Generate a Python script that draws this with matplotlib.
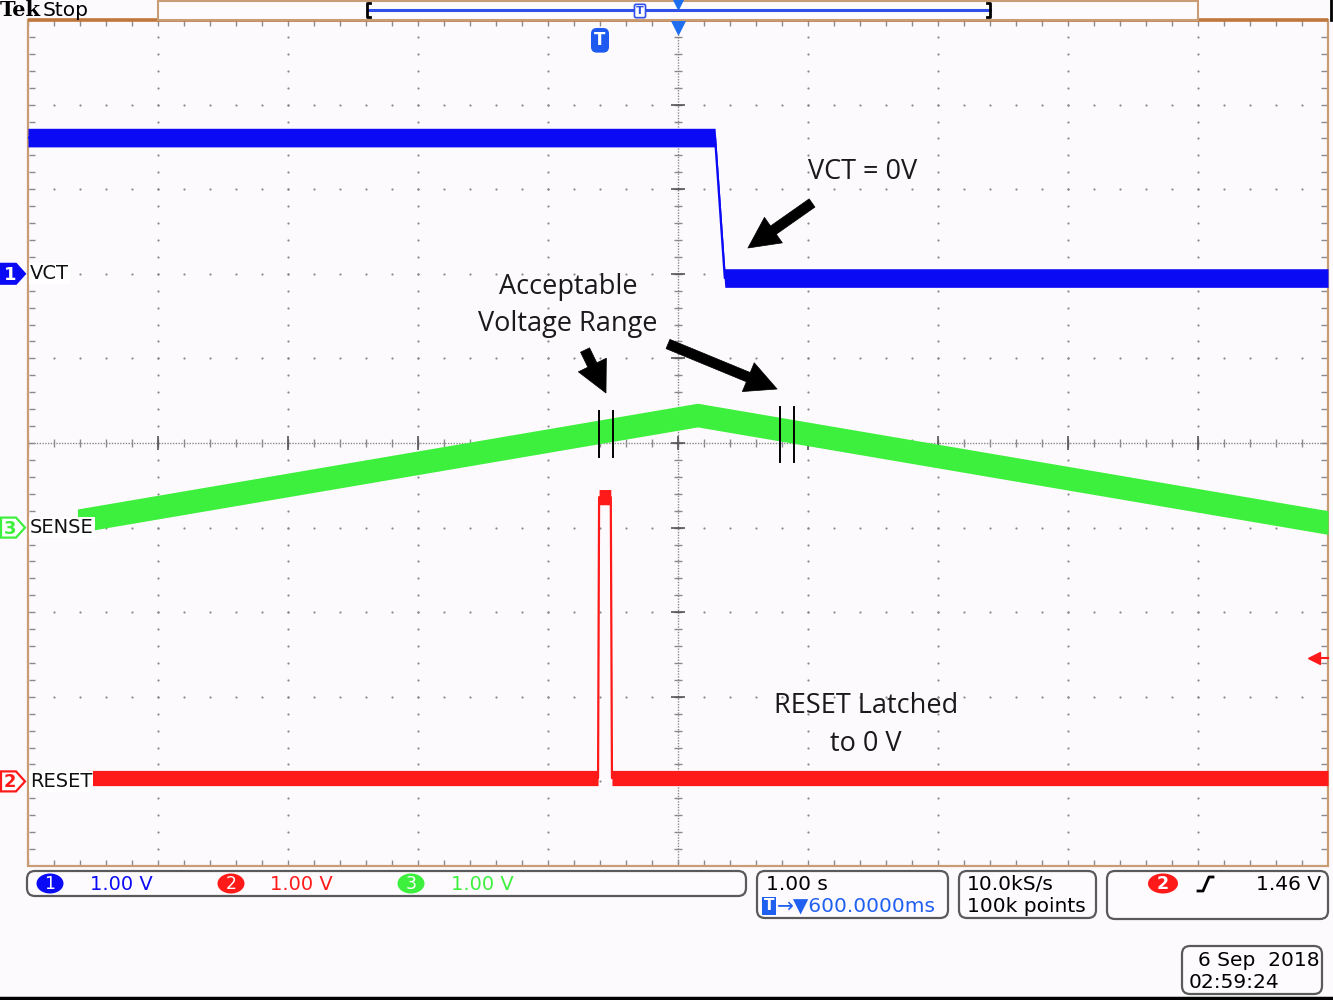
import numpy as np
import matplotlib
matplotlib.use("Agg")
import matplotlib.pyplot as plt
from matplotlib.patches import Polygon, Rectangle, FancyBboxPatch, Ellipse

# ---------------- data (time in s relative to screen centre, amplitude in V) ----------------
vct_t = [-5.0, 0.285, 0.36, 5.0]
vct_v = [1.61, 1.61, -0.05, -0.05]

sense_t = [-4.62, 0.15, 5.0]
sense_v = [0.08, 1.33, 0.06]

reset_t = [-4.55, -0.615, -0.607, -0.517, -0.508, 5.0]
reset_v = [0.04, 0.04, 3.36, 3.36, 0.04, 0.04]

channel_ids = ["1", "2", "3"]
channel_names = ["VCT", "RESET", "SENSE"]
channel_scale_text = ["1.00 V", "1.00 V", "1.00 V"]
channel_volts_per_div = [1.0, 1.0, 1.0]
channel_offsets = [2.0, -4.0, -1.0]          # screen divisions

trigger_position_s = -0.6
trigger_level_v = 1.46
range_marks_left = [-0.608, -0.500]
range_marks_right = [0.785, 0.892]

timebase_text = "1.00 s"
position_text = "\u2192\u25BC600.0000ms"
rate_text = "10.0kS/s"
points_text = "100k points"
trig_level_text = "1.46 V"
date_text = "6 Sep  2018"
time_text = "02:59:24"

# ---------------- styles ----------------
W, H = 1333, 1000
GX0, GX1, GY0, GY1 = 28, 1328, 20, 866
BLUE = "#0A0AF5"
RED = "#FF1A1A"
GREEN = "#3EF03E"
GRID = "#8A8A8A"
BG = "#FDFAFD"
colors = {"1": BLUE, "2": RED, "3": GREEN}

fig = plt.figure(figsize=(W / 100, H / 100), dpi=100)
fig.patch.set_facecolor(BG)

ax = fig.add_axes([GX0 / W, 1 - GY1 / H, (GX1 - GX0) / W, (GY1 - GY0) / H], zorder=1)
ax.set_xlim(-5, 5)
ax.set_ylim(-5, 5)
ax.axis("off")

ov = fig.add_axes([0, 0, 1, 1], zorder=3)
ov.set_xlim(0, W)
ov.set_ylim(H, 0)
ov.axis("off")
ov.patch.set_alpha(0)

# ---------------- graticule ----------------
minor = np.arange(-5, 5.001, 0.2)
for k in range(-4, 5):
    if k == 0:
        continue
    ax.scatter(minor, np.full_like(minor, k), s=2.5, color=GRID, lw=0, zorder=1)
    ax.scatter(np.full_like(minor, k), minor, s=2.5, color=GRID, lw=0, zorder=1)
ax.plot([-5, 5], [0, 0], color=GRID, lw=1.0, ls=(0, (1, 1)), zorder=1)
ax.plot([0, 0], [-5, 5], color=GRID, lw=1.0, ls=(0, (1, 1)), zorder=1)
ax.plot(minor, np.zeros_like(minor), ls="none", marker="|", ms=6, color=GRID, mew=1, zorder=1)
ax.plot(np.zeros_like(minor), minor, ls="none", marker="_", ms=6, color=GRID, mew=1, zorder=1)
major = np.arange(-5, 5.001, 1.0)
ax.plot(major, np.zeros_like(major), ls="none", marker="|", ms=10, color="#555555", mew=1.2, zorder=1)
ax.plot(np.zeros_like(major), major, ls="none", marker="_", ms=10, color="#555555", mew=1.2, zorder=1)
# edge ticks
ax.plot(np.full_like(minor, -4.97), minor, ls="none", marker="_", ms=4, color=GRID, mew=1, zorder=1)
ax.plot(np.full_like(minor, 4.97), minor, ls="none", marker="_", ms=4, color=GRID, mew=1, zorder=1)
ax.plot(minor, np.full_like(minor, 4.96), ls="none", marker="|", ms=4, color=GRID, mew=1, zorder=1)
ax.plot(minor, np.full_like(minor, -4.96), ls="none", marker="|", ms=4, color=GRID, mew=1, zorder=1)
ax.add_patch(Rectangle((-5, -5), 10, 10, fill=False, ec="#C99D74", lw=1.6, zorder=2, clip_on=False))
ax.plot([-5, 5], [5, 5], color="#C0773E", lw=2.6, zorder=2, clip_on=False, solid_capstyle="butt")

# ---------------- traces ----------------
def to_div(v, ch):
    i = channel_ids.index(ch)
    return np.asarray(v) / channel_volts_per_div[i] + channel_offsets[i]

def trace(t, v, ch, half):
    y = to_div(v, ch)
    ax.fill_between(t, y - half, y + half, color=colors[ch], lw=0, zorder=4)
    ax.plot(t, y, color=colors[ch], lw=1.6, zorder=4)

trace(vct_t, vct_v, "1", 0.11)
trace(sense_t, sense_v, "3", 0.14)
trace(reset_t, reset_v, "2", 0.09)

# acceptable range markers
for t in range_marks_left:
    ax.plot([t, t], [-0.165, 0.378], color="black", lw=1.4, zorder=5)
for t in range_marks_right:
    ax.plot([t, t], [-0.225, 0.426], color="black", lw=1.4, zorder=5)

# trigger level arrow (right edge)
tl = to_div([trigger_level_v], "2")[0]
ax.plot([4.9, 5.0], [tl, tl], color=RED, lw=1.5, zorder=5, clip_on=False)
ax.plot([4.89], [tl], marker="<", ms=8, color=RED, zorder=5, clip_on=False)

# trigger position badge and centre marker
ax.text(trigger_position_s, 4.76, "T", color="white", fontsize=12, fontweight="bold",
        ha="center", va="center", zorder=6,
        bbox=dict(boxstyle="round,pad=0.2,rounding_size=0.35", fc="#1E5AF0", ec="none"))
ax.plot([0], [4.93], marker="v", ms=11, color="#1E6EF0", zorder=6, clip_on=False)

# ---------------- annotations ----------------
af = dict(family="Open Sans", fontsize=19.5, color="#1a1a1a", ha="center", va="center", zorder=7)
ax.text(1.423, 3.203, "VCT = 0V", **af)
ax.text(-0.846, 1.844, "Acceptable", **af)
ax.text(-0.846, 1.407, "Voltage Range", **af)
ax.text(1.446, -3.109, "RESET Latched", **af)
ax.text(1.446, -3.558, "to 0 V", **af)

arrow_style = "simple,head_length=1.4,head_width=1.4,tail_width=0.45"
for tail, head in [((1.031, 2.837), (0.538, 2.305)),
                   ((-0.715, 1.099), (-0.554, 0.591)),
                   ((-0.077, 1.170), (0.762, 0.638))]:
    ax.annotate("", xy=head, xytext=tail, zorder=7,
                arrowprops=dict(arrowstyle=arrow_style, mutation_scale=16,
                                fc="black", ec="black", lw=0.5, shrinkA=0, shrinkB=0))

# ---------------- channel markers on the left ----------------
div_h = (GY1 - GY0) / 10.0
label_font = dict(family="DejaVu Sans", fontsize=14, color="#111111")
for cid, name, off in zip(channel_ids, channel_names, channel_offsets):
    ypx = GY0 + (5 - off) * div_h
    pts = [(1, ypx - 10), (16, ypx - 10), (25, ypx), (16, ypx + 10), (1, ypx + 10)]
    if cid == "1":
        ov.add_patch(Polygon(pts, closed=True, fc=colors[cid], ec=colors[cid], lw=1.5))
        tc = "white"
    else:
        ov.add_patch(Polygon(pts, closed=True, fc="white", ec=colors[cid], lw=1.6))
        tc = colors[cid]
    ov.text(10, ypx + 1, cid, color=tc, fontsize=13, ha="center", va="center", fontweight="bold")
    ov.text(30, ypx, name, ha="left", va="center",
            bbox=dict(boxstyle="square,pad=0.05", fc="white", ec="none"), **label_font)

# ---------------- top bar ----------------
ov.text(0, 10, "Tek", fontsize=15, fontweight="bold", family="DejaVu Serif", ha="left", va="center", color="black")
ov.text(43, 10, "Stop", fontsize=14.5, family="DejaVu Sans", ha="left", va="center", color="black")
ov.add_patch(Rectangle((158, 0.5), 1040, 19.5, fc="#FEFBFE", ec="#C99D74", lw=1.5))
ov.plot([368, 990], [10, 10], color="#3050E8", lw=2.2)
ov.plot([370, 367, 367, 370], [3, 3, 17, 17], color="black", lw=2)
ov.plot([987, 990, 990, 987], [3, 3, 17, 17], color="black", lw=2)
ov.text(640, 11, "T", fontsize=8, fontweight="bold", color="#3050E8", ha="center", va="center",
        bbox=dict(boxstyle="round,pad=0.15", fc="white", ec="#3050E8", lw=1.2))
ov.plot([678], [3], marker="v", ms=9, color="#1E6EF0")
ov.plot([1331, 1331], [0, 20], color="black", lw=2)

# ---------------- bottom readouts ----------------
def rbox(x0, y0, x1, y1):
    ov.add_patch(FancyBboxPatch((x0, y0), x1 - x0, y1 - y0,
                                boxstyle="round,pad=0,rounding_size=8",
                                fc="#FEFBFE", ec="#5A5A5A", lw=1.6))

rbox(27, 871, 746, 896)
for cid, cx, tx in zip(channel_ids, [50, 231, 411], [90, 270, 451]):
    i = channel_ids.index(cid)
    ov.add_patch(Ellipse((cx, 883.5), 27, 20, fc=colors[cid], ec="none"))
    ov.text(cx, 884, cid, color="white", fontsize=12.5, ha="center", va="center")
    ov.text(tx, 884, channel_scale_text[i], color=colors[cid], fontsize=14, ha="left", va="center")

rbox(757, 871, 948, 918)
ov.text(766, 884, timebase_text, fontsize=14.5, ha="left", va="center", color="black")
ov.text(769, 906, "T", fontsize=11, fontweight="bold", color="white", ha="center", va="center",
        bbox=dict(boxstyle="square,pad=0.12", fc="#2060F0", ec="none"))
ov.text(777, 906, position_text, fontsize=14.5, ha="left", va="center", color="#2060F0")

rbox(959, 871, 1096, 918)
ov.text(967, 884, rate_text, fontsize=14.5, ha="left", va="center", color="black")
ov.text(967, 906, points_text, fontsize=14.5, ha="left", va="center", color="black")

rbox(1107, 871, 1328, 919)
ov.add_patch(Ellipse((1163, 883.5), 30, 20, fc=RED, ec="none"))
ov.text(1163, 884, "2", color="white", fontsize=12.5, ha="center", va="center", fontweight="bold")
ov.plot([1198, 1203, 1209, 1213], [891, 891, 877, 877], color="black", lw=2)
ov.text(1321, 884, trig_level_text, fontsize=14.5, ha="right", va="center", color="black")

rbox(1182, 946, 1322, 994)
ov.text(1320, 961, date_text, fontsize=14.5, ha="right", va="center", color="black")
ov.text(1189, 982, time_text, fontsize=14.5, ha="left", va="center", color="black")

ov.plot([0, W], [997.5, 997.5], color="black", lw=2.5)

fig.savefig("out.png", dpi=100, facecolor=fig.get_facecolor())
